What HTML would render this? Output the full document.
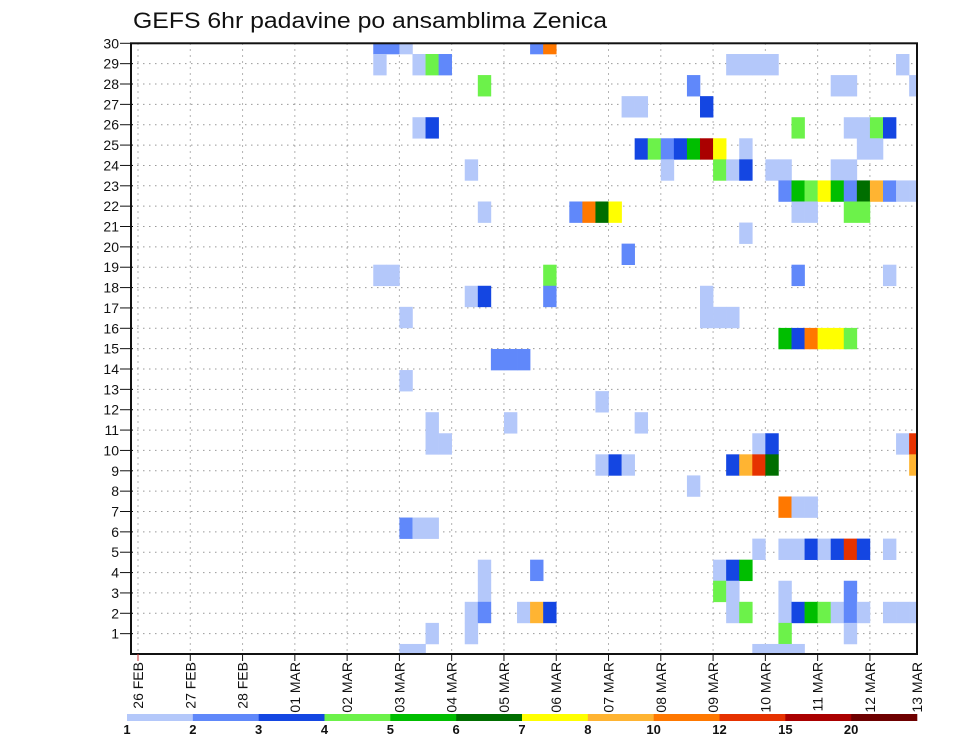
<!DOCTYPE html>
<html><head><meta charset="utf-8"><title>GEFS 6hr padavine po ansamblima Zenica</title>
<style>
html,body{margin:0;padding:0;background:#fff;}
svg{display:block;font-family:"Liberation Sans",sans-serif;}
</style></head>
<body>
<svg id="chart" width="960" height="742" viewBox="0 0 960 742" xmlns="http://www.w3.org/2000/svg">
<text x="133" y="28" font-size="22" textLength="474" lengthAdjust="spacingAndGlyphs" fill="#111">GEFS 6hr padavine po ansamblima Zenica</text>
<g id="grid"></g>
<g id="cells"></g>
<g id="axes"></g>
<g id="legend"></g>
</svg>
<script>
// ---- data ----
const dateLabels = ["26 FEB","27 FEB","28 FEB","01 MAR","02 MAR","03 MAR","04 MAR","05 MAR","06 MAR","07 MAR","08 MAR","09 MAR","10 MAR","11 MAR","12 MAR","13 MAR"];
const memberLabels = [1,2,3,4,5,6,7,8,9,10,11,12,13,14,15,16,17,18,19,20,21,22,23,24,25,26,27,28,29,30];
const levelLabels = ["1","2","3","4","5","6","7","8","10","12","15","20"];
const levelColors = ["#b4c8fa","#6088fa","#1446e2","#6cf24a","#00be00","#006e00","#ffff00","#ffb432","#ff7800","#e63200","#aa0000","#6e0000"];
// cells: [ensemble member, 6-hour step index from 26 FEB 00Z, colour class 1..12]
const cells = [
[30,18,2],[30,19,2],[30,20,1],[30,30,2],[30,31,9],
[29,18,1],[29,21,1],[29,22,4],[29,23,2],[29,45,1],[29,46,1],[29,47,1],[29,48,1],[29,58,1],
[28,26,4],[28,42,2],[28,53,1],[28,54,1],[28,59,1],
[27,37,1],[27,38,1],[27,43,3],
[26,21,1],[26,22,3],[26,50,4],[26,54,1],[26,55,1],[26,56,4],[26,57,3],
[25,38,3],[25,39,4],[25,40,2],[25,41,3],[25,42,5],[25,43,11],[25,44,7],[25,46,1],[25,55,1],[25,56,1],
[24,25,1],[24,40,1],[24,44,4],[24,45,1],[24,46,3],[24,48,1],[24,49,1],[24,53,1],[24,54,1],
[23,49,2],[23,50,5],[23,51,4],[23,52,7],[23,53,5],[23,54,2],[23,55,6],[23,56,8],[23,57,2],[23,58,1],[23,59,1],
[22,26,1],[22,33,2],[22,34,9],[22,35,6],[22,36,7],[22,50,1],[22,51,1],[22,54,4],[22,55,4],
[21,46,1],
[20,37,2],
[19,18,1],[19,19,1],[19,31,4],[19,50,2],[19,57,1],
[18,25,1],[18,26,3],[18,31,2],[18,43,1],
[17,20,1],[17,43,1],[17,44,1],[17,45,1],
[16,49,5],[16,50,3],[16,51,9],[16,52,7],[16,53,7],[16,54,4],
[15,27,2],[15,28,2],[15,29,2],
[14,20,1],
[13,35,1],
[12,22,1],[12,28,1],[12,38,1],
[11,22,1],[11,23,1],[11,47,1],[11,48,3],[11,58,1],[11,59,10],
[10,35,1],[10,36,3],[10,37,1],[10,45,3],[10,46,8],[10,47,10],[10,48,6],[10,59,8],
[9,42,1],
[8,49,9],[8,50,1],[8,51,1],
[7,20,2],[7,21,1],[7,22,1],
[6,47,1],[6,49,1],[6,50,1],[6,51,3],[6,52,1],[6,53,3],[6,54,10],[6,55,3],[6,57,1],
[5,26,1],[5,30,2],[5,44,1],[5,45,3],[5,46,5],
[4,26,1],[4,44,4],[4,45,1],[4,49,1],[4,54,2],
[3,25,1],[3,26,2],[3,29,1],[3,30,8],[3,31,3],[3,45,1],[3,46,4],[3,49,1],[3,50,3],[3,51,5],[3,52,4],[3,53,1],[3,54,2],[3,55,1],[3,57,1],[3,58,1],[3,59,1],
[2,22,1],[2,25,1],[2,49,4],[2,54,1],
[1,20,1],[1,21,1],[1,47,1],[1,48,1],[1,49,1],[1,50,1]
];

// ---- layout / scales ----
const NS = "http://www.w3.org/2000/svg";
const L = 131, R = 917, T = 43.3, B = 654;
const dayW = 52.28, stepW = dayW / 4, x0 = 138;
function xDay(d){ return x0 + d * dayW; }
function xStep(i){ return x0 + i * stepW; }
function yLabel(k){ return B - k * (B - T) / 30; }
const cellH = 21.07;
function yCellTop(m){ return 54 + cellH * (29 - m); }
function mk(tag, attrs, parent){
  const e = document.createElementNS(NS, tag);
  for (const k in attrs) e.setAttribute(k, attrs[k]);
  parent.appendChild(e);
  return e;
}
const gGrid = document.getElementById("grid");
const gCells = document.getElementById("cells");
const gAxes = document.getElementById("axes");
const gLeg = document.getElementById("legend");

// grid lines
memberLabels.forEach(k => {
  if (k >= 30) return;
  const y = yLabel(k);
  const ln = mk("line", {x1:L, x2:R, y1:y, y2:y, stroke:"#999", "stroke-width":1, "stroke-dasharray":"1.5,4.5"}, gGrid);
  
  
});
for (let d = 0; d < 15; d++) {
  const x = xDay(d);
  const ln = mk("line", {x1:x, x2:x, y1:T, y2:B, stroke:"#999", "stroke-width":1, "stroke-dasharray":"1.5,4.5"}, gGrid);
  
  
}

// cells
cells.forEach(c => {
  const m = c[0], i = c[1], cls = c[2];
  let x1 = xStep(i), x2 = xStep(i + 1);
  let y1 = yCellTop(m), y2 = y1 + cellH;
  x1 = Math.max(x1, L); x2 = Math.min(x2, R);
  y1 = Math.max(y1, T); y2 = Math.min(y2, B);
  if (x2 <= x1 || y2 <= y1) return;
  const r = mk("rect", {x:x1, y:y1, width:x2 - x1 + 0.3, height:y2 - y1 + 0.3, fill:levelColors[cls - 1]}, gCells);
  
  
});

// frame
const frame = mk("rect", {x:L, y:T, width:R - L, height:B - T, fill:"none", stroke:"#111", "stroke-width":2}, gAxes);



// y axis ticks + labels
memberLabels.forEach(k => {
  const y = yLabel(k);
  const t = mk("line", {x1:120, x2:133, y1:y, y2:y, stroke:"#111", "stroke-width":1}, gAxes);
  
  
  const tx = mk("text", {x:119, y:y + 5, "font-size":14, "text-anchor":"end", fill:"#111"}, gAxes);
  tx.textContent = String(k);
  
  
});

// x axis ticks + labels
dateLabels.forEach((lab, d) => {
  const x = d < 15 ? xDay(d) : R;
  if (d < 15) {
    const t = mk("line", {x1:x, x2:x, y1:B, y2:661, stroke: d === 0 ? "#c33" : "#111", "stroke-width":1}, gAxes);
    
    
  }
  const tx = mk("text", {x:0, y:0, "font-size":14, "text-anchor":"end", fill:"#111",
    transform:"translate(" + (x + 5) + ",662) rotate(-90)"}, gAxes);
  tx.textContent = lab;
  
  
});

// colour legend
const lx0 = 127, lx1 = 917, segW = (lx1 - lx0) / levelColors.length;
levelColors.forEach((col, j) => {
  const r = mk("rect", {x:lx0 + j * segW, y:714, width:segW + 0.3, height:7, fill:col}, gLeg);
  
  
});
levelLabels.forEach((lab, j) => {
  const tx = mk("text", {x:lx0 + j * segW, y:734, "font-size":13, "font-weight":"bold", "text-anchor":"middle", fill:"#111"}, gLeg);
  tx.textContent = lab;
  
  
});
</script>
</body></html>
